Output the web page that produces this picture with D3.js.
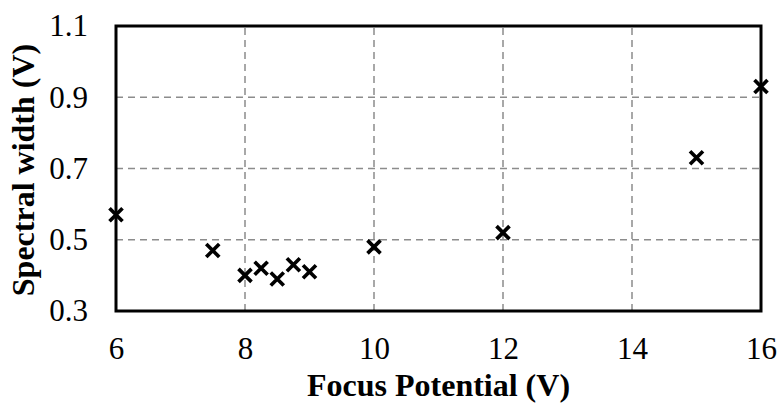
<!DOCTYPE html>
<html><head><meta charset="utf-8">
<script src="https://cdn.jsdelivr.net/npm/d3@7"></script>
<style>body{margin:0;background:#fff}svg{display:block}</style>
</head><body>
<script>
const xValues = [6, 7.5, 8, 8.25, 8.5, 8.75, 9, 10, 12, 15, 16];
const yValues = [0.57, 0.47, 0.40, 0.42, 0.39, 0.43, 0.41, 0.48, 0.52, 0.73, 0.93];
const xTicks = [6, 8, 10, 12, 14, 16];
const yTicks = [0.3, 0.5, 0.7, 0.9, 1.1];
const xTitle = "Focus Potential (V)";
const yTitle = "Spectral width (V)";

const W = 779, H = 407;
const m = {left:116, right:18, top:26, bottom:96};
const svg = d3.select("body").append("svg").attr("width", W).attr("height", H);
const x = d3.scaleLinear().domain([6,16]).range([m.left, W - m.right]);
const y = d3.scaleLinear().domain([0.3,1.1]).range([H - m.bottom, m.top]);
const font = "'Liberation Serif','Times New Roman',serif";

// grid
svg.append("g").selectAll("line").data(xTicks.slice(1,-1)).join("line")
  .attr("x1", d=>x(d)).attr("x2", d=>x(d)).attr("y1", y(0.3)).attr("y2", y(1.1))
  .attr("stroke", "#8c8c8c").attr("stroke-width", 1.5).attr("stroke-dasharray", "7,5");
svg.append("g").selectAll("line").data(yTicks.slice(1,-1)).join("line")
  .attr("x1", x(6)).attr("x2", x(16)).attr("y1", d=>y(d)).attr("y2", d=>y(d))
  .attr("stroke", "#8c8c8c").attr("stroke-width", 1.5).attr("stroke-dasharray", "7,5");

// axes (labels)
const xAxis = svg.append("g").attr("transform", `translate(0,${y(0.3)})`)
  .call(d3.axisBottom(x).tickValues(xTicks).tickSize(0).tickPadding(0).tickFormat(d3.format("d")));
xAxis.selectAll("text").attr("y", 48).attr("dy", 0);
const yAxis = svg.append("g").attr("transform", `translate(${x(6)},0)`)
  .call(d3.axisLeft(y).tickValues(yTicks).tickSize(0).tickPadding(28).tickFormat(d3.format(".1f")));
[xAxis, yAxis].forEach(g => {
  g.select(".domain").remove();
  g.selectAll("text").attr("font-family", font).attr("font-size", 31).attr("fill", "#000");
});

// frame
svg.append("rect").attr("x", x(6)).attr("y", y(1.1)).attr("width", x(16)-x(6)).attr("height", y(0.3)-y(1.1))
  .attr("fill", "none").attr("stroke", "#000").attr("stroke-width", 3);

// markers
const s = 6.5;
svg.append("g").selectAll("path").data(xValues.map((v,i)=>[v,yValues[i]])).join("path")
  .attr("d", d => { const cx=x(d[0]), cy=y(d[1]);
    return `M${cx-s},${cy-s}L${cx+s},${cy+s}M${cx-s},${cy+s}L${cx+s},${cy-s}`; })
  .attr("stroke", "#000").attr("stroke-width", 3.7).attr("fill", "none");

// titles
svg.append("text").attr("x", 438.5).attr("y", 396).attr("text-anchor", "middle")
  .attr("font-family", font).attr("font-weight", "bold").attr("font-size", 32).text(xTitle);
svg.append("text").attr("transform", `translate(34,170) rotate(-90)`).attr("text-anchor", "middle")
  .attr("font-family", font).attr("font-weight", "bold").attr("font-size", 32).text(yTitle);
</script>
</body></html>
